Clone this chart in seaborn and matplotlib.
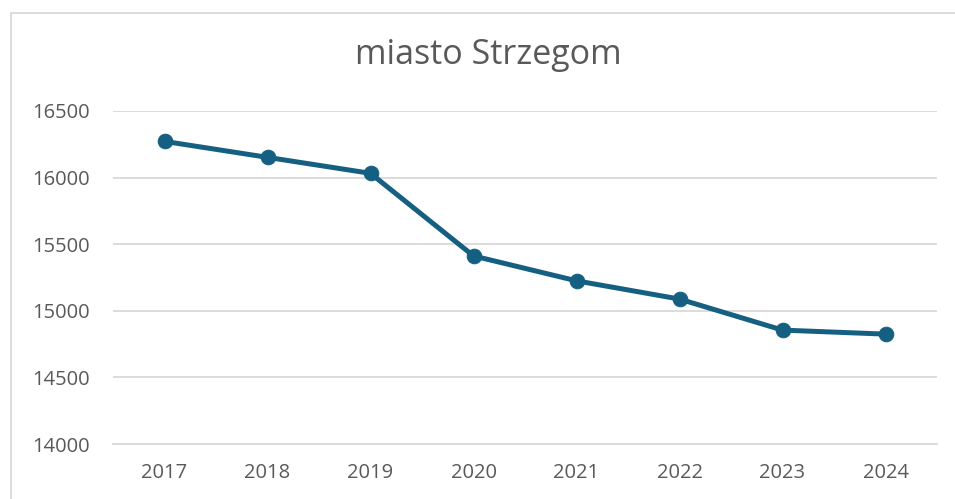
import matplotlib
matplotlib.use("Agg")
import matplotlib.pyplot as plt
import seaborn as sns
import pandas as pd
from matplotlib.lines import Line2D

years = ["2017", "2018", "2019", "2020", "2021", "2022", "2023", "2024"]
population = [16272, 16152, 16032, 15412, 15225, 15088, 14855, 14825]
yticks = [14000, 14500, 15000, 15500, 16000, 16500]
title = "miasto Strzegom"

sns.set_theme(style="white")
plt.rcParams["font.family"] = ["Open Sans", "DejaVu Sans"]

df = pd.DataFrame({"rok": years, "ludnosc": population})

fig = plt.figure(figsize=(9.55, 4.99), dpi=100)
fig.patch.set_facecolor("white")
ax = fig.add_axes([113 / 955, 55 / 499, 824 / 955, 333 / 499])

sns.lineplot(data=df, x="rok", y="ludnosc", ax=ax, color="#156082",
             linewidth=3.6, marker="o", markersize=10.5,
             markeredgecolor="#156082", sort=False)

ax.set_xlim(-0.5, len(years) - 0.5)
ax.set_ylim(yticks[0], yticks[-1])
ax.set_yticks(yticks)
ax.set_yticklabels([str(v) for v in yticks])
ax.yaxis.grid(True, color="#d9d9d9", linewidth=1.3)
ax.xaxis.grid(False)
for s in ax.spines.values():
    s.set_visible(False)
ax.spines["bottom"].set_visible(True)
ax.spines["bottom"].set_color("#d9d9d9")
ax.spines["bottom"].set_linewidth(1.3)
ax.tick_params(axis="both", colors="#595959", labelsize=14.5, length=0)
ax.tick_params(axis="y", pad=17)
ax.tick_params(axis="x", pad=14)
ax.set_xlabel("")
ax.set_ylabel("")

fig.text(488 / 955, 1 - 55 / 499, title, ha="center", va="center",
         fontsize=24.5, color="#595959")

# outer chart frame (cropped)
fig.add_artist(Line2D([10.5 / 955, 10.5 / 955], [0, 1 - 12.5 / 499],
                      transform=fig.transFigure, color="#d9d9d9", linewidth=1.3))
fig.add_artist(Line2D([10.5 / 955, 1], [1 - 12.5 / 499, 1 - 12.5 / 499],
                      transform=fig.transFigure, color="#d9d9d9", linewidth=1.3))

fig.savefig("out.png", dpi=100, facecolor="white")
